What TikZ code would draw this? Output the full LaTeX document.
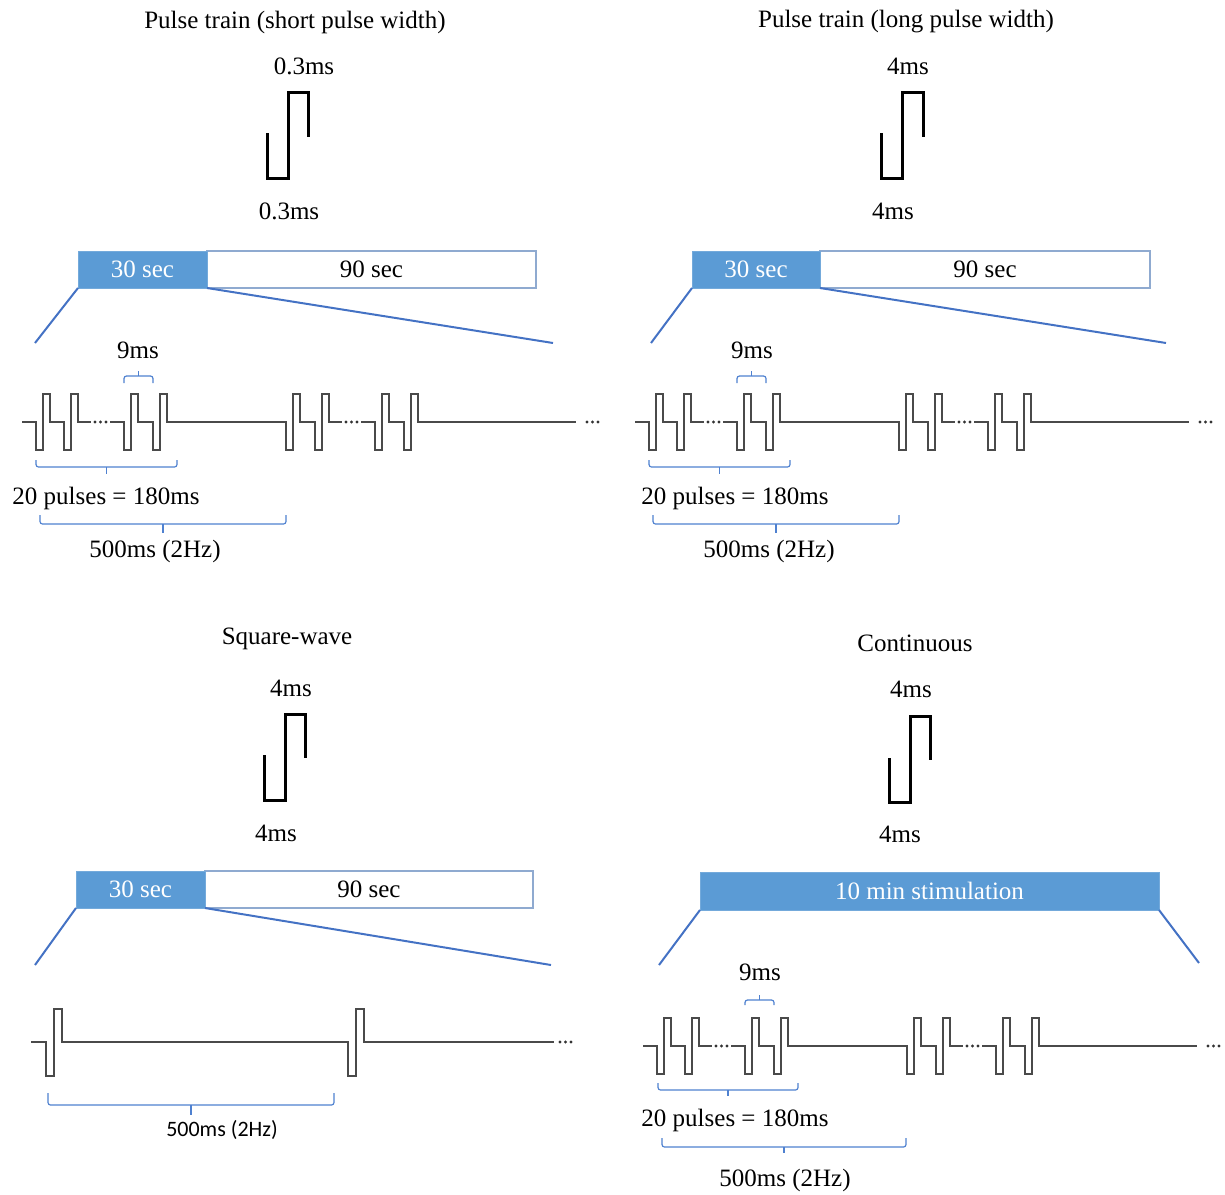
\documentclass[tikz,border=0pt]{standalone}
\usepackage{fontspec}
\setmainfont{Liberation Serif}
\newfontfamily\calibrifont{Carlito}
\definecolor{barblue}{HTML}{5B9BD5}
\definecolor{baredge}{HTML}{8FAAD0}
\definecolor{zoomblue}{HTML}{4472C4}
\definecolor{bracketblue}{HTML}{4F81D0}
\definecolor{wave}{HTML}{4A4A4A}

\tikzset{
  lbl/.style={inner sep=0pt, yshift=-2pt, font=\fontsize{25}{30}\selectfont},
  onpart/.style={fill=barblue, draw=barblue!85!white, line width=1pt, text=white,
    inner sep=0pt, outer sep=0pt, anchor=north west, minimum height=37pt,
    font=\fontsize{25}{30}\selectfont},
  offpart/.style={fill=white, draw=baredge, line width=2pt, inner sep=0pt,
    outer sep=0pt, anchor=north west, minimum height=37pt,
    font=\fontsize{25}{30}\selectfont},
  zoomline/.style={draw=zoomblue, line width=2pt},
  bracket/.style={draw=bracketblue, line width=1.2pt, rounded corners=2.5pt},
  wavepath/.style={draw=wave, line width=1.5pt, line join=miter},
  singlepulse/.style={draw=black, line width=3pt, line join=miter},
}

% bracket: left x, right x, end y, line y, tip y
\newcommand\tickbrace[5]{%
  \draw[bracket] (#1,#3) -- (#1,#4) -- (#2,#4) -- (#2,#3);
  \draw[bracket] ({(#1+#2)/2},#4) -- ({(#1+#2)/2},#5);}

% three small dots on the baseline
\newcommand\wavedots[1]{%
  \foreach \d in {0,5.5,11} {\fill[black!80] (#1+\d,0) circle (1.7pt);}}

% two bursts of biphasic pulses, drawn around the local origin
\newcommand\drawtrain{%
  \draw[wavepath] (-14,0) foreach \p in {0,28}
    {-- (\p,0) -- (\p,28) -- (\p+7,28) -- (\p+7,-28) -- (\p+14,-28) -- (\p+14,0)} -- (55,0);
  \wavedots{59}
  \draw[wavepath] (74,0) foreach \p in {88,117,250,279}
    {-- (\p,0) -- (\p,28) -- (\p+7,28) -- (\p+7,-28) -- (\p+14,-28) -- (\p+14,0)} -- (306,0);
  \wavedots{310}
  \draw[wavepath] (325,0) foreach \p in {339,368}
    {-- (\p,0) -- (\p,28) -- (\p+7,28) -- (\p+7,-28) -- (\p+14,-28) -- (\p+14,0)} -- (540,0);
  \wavedots{551}}

\begin{document}
\begin{tikzpicture}[x=1pt,y=-1pt]
\useasboundingbox (0,0) rectangle (1225,1194);

% ---------- Pulse train, short pulse width ----------
\node[lbl] (a-title) at (295,20) {Pulse train (short pulse width)};
\node[lbl] (a-wup) at (304,64) {0.3ms};
\draw[singlepulse] (267,133) -- (267,178) -- (288,178) -- (288,92) -- (308,92) -- (308,137);
\node[lbl] (a-wdown) at (289,209) {0.3ms};
\node[offpart, minimum width=329pt] (a-off) at (207,251) {90 sec};
\node[onpart, minimum width=129pt] (a-on) at (78,251) {30 sec};
\coordinate (a-zl) at (35,343);
\coordinate (a-zr) at (553,343);
\draw[zoomline] (a-on.south west) -- (a-zl);
\draw[zoomline] (a-on.south east) -- (a-zr);
\begin{scope}[shift={(36,422)}]
  \drawtrain
  \tickbrace{88}{117}{-39}{-46}{-51}
  \tickbrace{0}{141}{38}{45}{52}
  \tickbrace{4}{250}{93}{102}{111}
\end{scope}
\node[lbl] (a-nine) at (138,348) {9ms};
\node[lbl] (a-twenty) at (106,496) {20 pulses = 180ms};
\node[lbl] (a-period) at (155,549) {500ms (2Hz)};

% ---------- Pulse train, long pulse width ----------
\node[lbl] (b-title) at (906,20) {Pulse train (long pulse width)};
\node[lbl] (b-wup) at (908,64) {4ms};
\draw[singlepulse] (881,133) -- (881,178) -- (902,178) -- (902,92) -- (923,92) -- (923,137);
\node[lbl] (b-wdown) at (893,209) {4ms};
\node[offpart, minimum width=330pt] (b-off) at (820,251) {90 sec};
\node[onpart, minimum width=128pt] (b-on) at (692,251) {30 sec};
\coordinate (b-zl) at (651,343);
\coordinate (b-zr) at (1166,343);
\draw[zoomline] (b-on.south west) -- (b-zl);
\draw[zoomline] (b-on.south east) -- (b-zr);
\begin{scope}[shift={(649,422)}]
  \drawtrain
  \tickbrace{88}{117}{-39}{-46}{-51}
  \tickbrace{0}{141}{38}{45}{52}
  \tickbrace{4}{250}{93}{102}{111}
\end{scope}
\node[lbl] (b-nine) at (752,348) {9ms};
\node[lbl] (b-twenty) at (735,496) {20 pulses = 180ms};
\node[lbl] (b-period) at (769,549) {500ms (2Hz)};

% ---------- Square-wave ----------
\node[lbl] (c-title) at (287,637) {Square-wave};
\node[lbl] (c-wup) at (291,686) {4ms};
\draw[singlepulse] (264,755) -- (264,800) -- (285,800) -- (285,714) -- (305,714) -- (305,758);
\node[lbl] (c-wdown) at (276,831) {4ms};
\node[offpart, minimum width=328pt] (c-off) at (205,871) {90 sec};
\node[onpart, minimum width=129pt] (c-on) at (76,871) {30 sec};
\coordinate (c-zl) at (35,965);
\coordinate (c-zr) at (551,965);
\draw[zoomline] (c-on.south west) -- (c-zl);
\draw[zoomline] (c-on.south east) -- (c-zr);
\begin{scope}[shift={(46,1042)}]
  \draw[wavepath] (-15,0) -- (0,0) -- (0,34) -- (8,34) -- (8,-33) -- (16,-33) -- (16,0)
    -- (302,0) -- (302,34) -- (310,34) -- (310,-33) -- (318,-33) -- (318,0) -- (508,0);
  \wavedots{514}
  \tickbrace{2}{288}{51}{63}{73}
\end{scope}
\node[inner sep=0pt, yshift=-1pt, font=\calibrifont\fontsize{22}{26}\selectfont] (c-period) at (222,1129) {500ms (2Hz)};

% ---------- Continuous ----------
\node[lbl] (d-title) at (915,641) {Continuous};
\node[lbl] (d-wup) at (911,687) {4ms};
\draw[singlepulse] (889,758) -- (889,802) -- (910,802) -- (910,716) -- (930,716) -- (930,760);
\node[lbl] (d-wdown) at (900,832) {4ms};
\node[onpart, minimum width=459pt, minimum height=38pt] (d-on) at (700,872) {10 min stimulation};
\coordinate (d-zl) at (659,965);
\coordinate (d-zr) at (1199,963);
\draw[zoomline] (d-on.south west) -- (d-zl);
\draw[zoomline] (d-on.south east) -- (d-zr);
\begin{scope}[shift={(657,1046)}]
  \drawtrain
  \tickbrace{88}{117}{-41}{-46}{-51}
  \tickbrace{1}{141}{37}{44}{50}
  \tickbrace{5}{249}{92}{101}{107}
\end{scope}
\node[lbl] (d-nine) at (760,970) {9ms};
\node[lbl] (d-twenty) at (735,1118) {20 pulses = 180ms};
\node[lbl] (d-period) at (785,1178) {500ms (2Hz)};
\end{tikzpicture}
\end{document}
